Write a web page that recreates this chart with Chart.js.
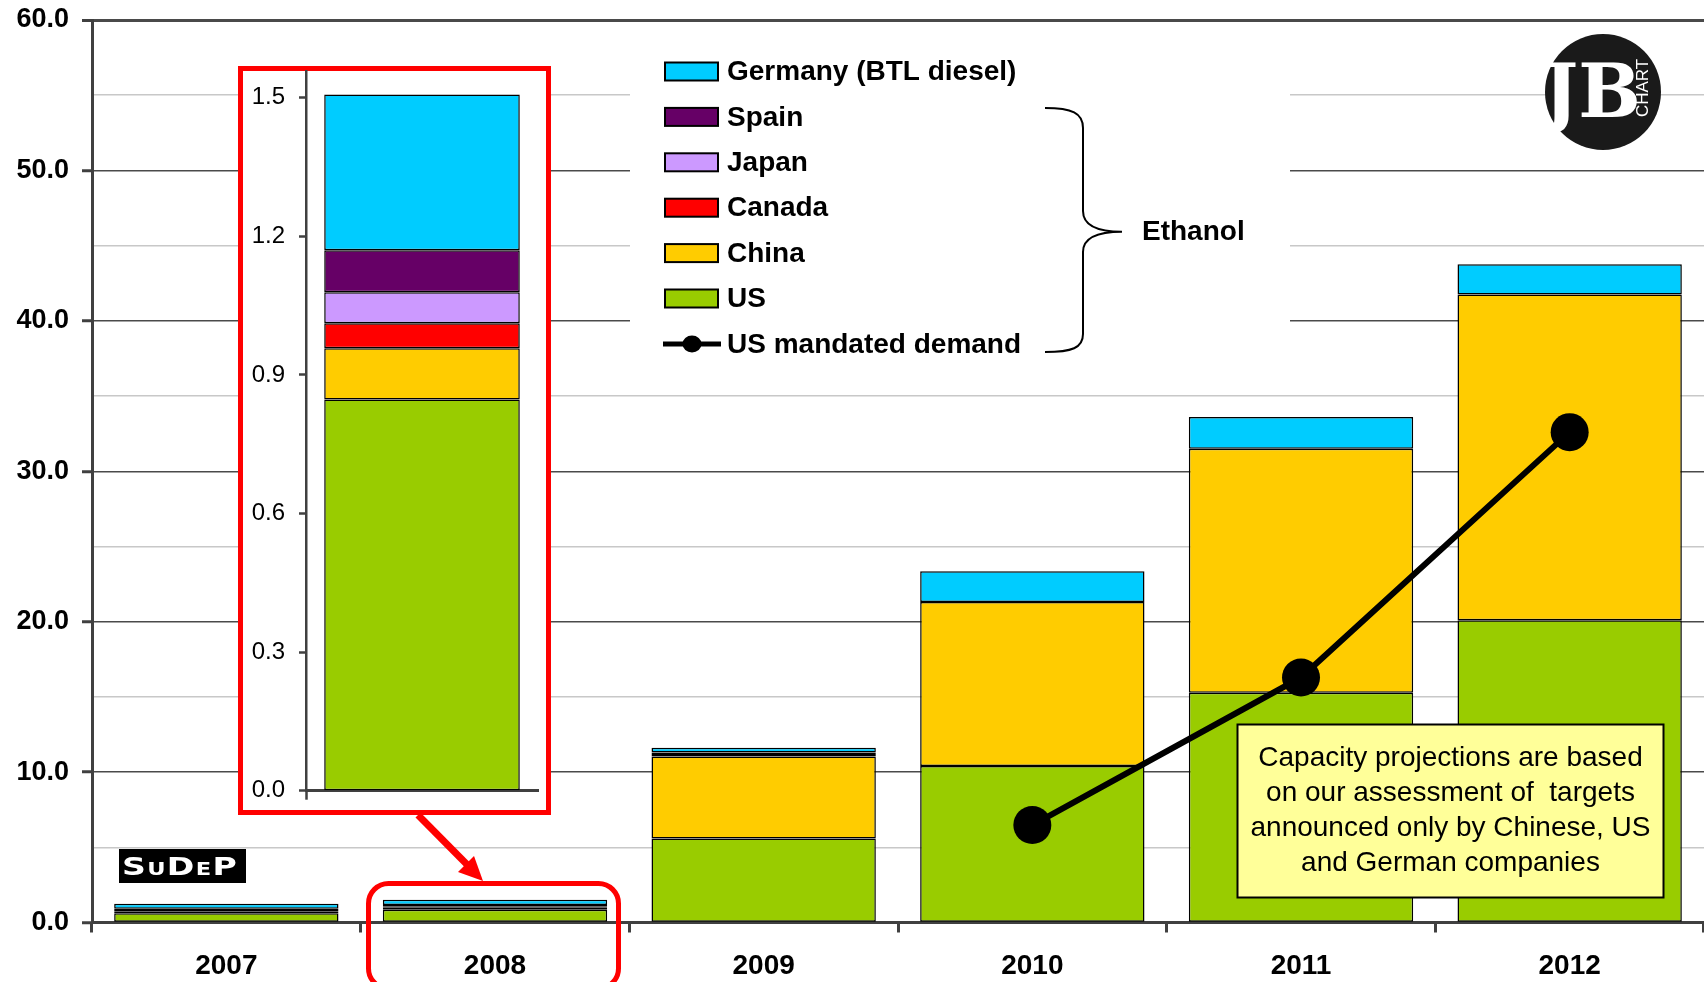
<!DOCTYPE html>
<html>
<head>
<meta charset="utf-8">
<script src="https://cdn.jsdelivr.net/npm/chart.js@4.4.1/dist/chart.umd.min.js"></script>
<style>
  body { margin: 0; background: #fff; overflow: hidden; }
  #wrap { position: relative; width: 1704px; height: 982px; }
  #main { position: absolute; left: 0; top: 0; }
  #inset { position: absolute; left: 243px; top: 60px; }
</style>
</head>
<body>
<div id="wrap">
  <canvas id="main" width="1704" height="982"></canvas>
  <canvas id="inset" width="302" height="750"></canvas>
</div>
<script>
// values
const years = ["2007", "2008", "2009", "2010", "2011", "2012"];
const usEthanol = [0.62, 0.847, 5.59, 10.4, 15.27, 20.09];
const chinaEthanol = [0.10, 0.111, 5.45, 10.9, 16.23, 21.66];
const canadaEthanol = [0.05, 0.054, 0.10, 0, 0, 0];
const japanEthanol = [0.06, 0.067, 0.07, 0, 0, 0];
const spainEthanol = [0.09, 0.091, 0.10, 0, 0, 0];
const germanyBtl = [0.33, 0.337, 0.30, 2.06, 2.10, 2.02];
const usMandated = [null, null, null, 6.48, 16.29, 32.6];

const mainTicks = { min: 0, max: 60, step: 5 };
const insetTicks = [0, 0.3, 0.6, 0.9, 1.2, 1.5];
const insetMax = 1.558;
const zoomYear = "2008";

const noteLines = [
  "Capacity projections are based",
  "on our assessment of  targets",
  "announced only by Chinese, US",
  "and German companies"
];

const FONT = '"Liberation Sans", Arial, sans-serif';
Chart.defaults.font.family = FONT;
Chart.defaults.color = "#000";

function zeroPad(s) {
  s.paddingTop = 0; s.paddingBottom = 0; s.paddingLeft = 0; s.paddingRight = 0;
}

function barSet(label, data, color) {
  return {
    label, data,
    backgroundColor: color,
    borderColor: "#000",
    borderWidth: 1.5,
    borderSkipped: false,
    barPercentage: 0.835,
    categoryPercentage: 1,
    order: 1
  };
}

function makeBars(idx) {
  const pick = arr => idx == null ? arr : [arr[idx]];
  return [
    barSet("US", pick(usEthanol), "#99CC00"),
    barSet("China", pick(chinaEthanol), "#FFCC00"),
    barSet("Canada", pick(canadaEthanol), "#FF0000"),
    barSet("Japan", pick(japanEthanol), "#CC99FF"),
    barSet("Spain", pick(spainEthanol), "#660066"),
    barSet("Germany (BTL diesel)", pick(germanyBtl), "#00CCFF")
  ];
}

const overlay = {
  id: "overlay",
  beforeDatasetsDraw(chart) {
    const c = chart.ctx;
    c.save();
    c.fillStyle = "#fff";
    c.fillRect(630, 30, 660, 350);   // legend area
    c.fillRect(238, 66, 313, 749);   // zoom box
    c.restore();
  },
  afterDraw(chart) {
    const c = chart.ctx;
    const ds = chart.data.datasets;
    c.save();

    // red zoom frame
    c.strokeStyle = "#FF0000";
    c.lineWidth = 5;
    c.strokeRect(240.5, 68.5, 308, 744);

    // arrow
    c.lineWidth = 7;
    c.beginPath();
    c.moveTo(418, 815);
    c.lineTo(467, 864.5);
    c.stroke();
    c.fillStyle = "#FF0000";
    c.beginPath();
    c.moveTo(483, 881);
    c.lineTo(458, 872);
    c.lineTo(474, 856);
    c.closePath();
    c.fill();

    // rounded frame round 2008
    c.lineWidth = 5;
    c.beginPath();
    c.roundRect(368.5, 883.5, 250, 105, 20);
    c.stroke();

    // legend
    c.font = "bold 28px " + FONT;
    c.textBaseline = "middle";
    c.textAlign = "left";
    [5, 4, 3, 2, 1, 0].forEach((di, i) => {
      const y = 71.5 + i * 45.4;
      c.fillStyle = ds[di].backgroundColor;
      c.fillRect(665, y - 9, 53, 18);
      c.strokeStyle = "#000";
      c.lineWidth = 2;
      c.strokeRect(665, y - 9, 53, 18);
      c.fillStyle = "#000";
      c.fillText(ds[di].label, 727, y + 1);
    });
    const ly = 71.5 + 6 * 45.4;
    c.strokeStyle = "#000";
    c.lineWidth = 5;
    c.beginPath();
    c.moveTo(663, ly);
    c.lineTo(721, ly);
    c.stroke();
    c.fillStyle = "#000";
    c.beginPath();
    c.ellipse(692, ly, 9.5, 8.5, 0, 0, Math.PI * 2);
    c.fill();
    c.fillText(ds[6].label, 727, ly + 1);

    // brace + Ethanol
    c.lineWidth = 2;
    c.beginPath();
    c.moveTo(1045, 108);
    c.bezierCurveTo(1072, 108, 1083, 113, 1083, 128);
    c.lineTo(1083, 211);
    c.bezierCurveTo(1083, 227, 1100, 231.7, 1122, 231.7);
    c.bezierCurveTo(1100, 231.7, 1083, 237, 1083, 252);
    c.lineTo(1083, 334);
    c.bezierCurveTo(1083, 348, 1072, 352, 1045, 352);
    c.stroke();
    c.fillText("Ethanol", 1142, 232);

    // note box
    c.fillStyle = "#FFFF99";
    c.fillRect(1237.5, 724.5, 426, 173);
    c.strokeStyle = "#000";
    c.lineWidth = 2;
    c.strokeRect(1237.5, 724.5, 426, 173);
    c.fillStyle = "#000";
    c.font = "28px " + FONT;
    c.textAlign = "center";
    noteLines.forEach((t, i) => c.fillText(t, 1450.5, 758 + i * 35));

    // SuDeP badge
    c.fillStyle = "#000";
    c.fillRect(119, 849, 127, 34);
    const parts = [["S", 25], ["U", 17], ["D", 25], ["E", 17], ["P", 25]];
    c.textAlign = "left";
    c.textBaseline = "alphabetic";
    let w = 0;
    parts.forEach(p => { c.font = "bold " + p[1] + "px 'DejaVu Sans'"; w += c.measureText(p[0]).width + 1; });
    const sx = 116 / w;
    c.save();
    c.translate(122, 875);
    c.scale(sx, 1);
    c.fillStyle = "#fff";
    let x = 0;
    parts.forEach(p => {
      c.font = "bold " + p[1] + "px 'DejaVu Sans'";
      c.fillText(p[0], x, 0);
      x += c.measureText(p[0]).width + 1;
    });
    c.restore();

    // JB chart logo
    c.fillStyle = "#1a1a1a";
    c.beginPath();
    c.arc(1603, 92, 58, 0, Math.PI * 2);
    c.fill();
    c.fillStyle = "#fff";
    c.font = "bold 74px 'DejaVu Serif'";
    c.textAlign = "center";
    c.textBaseline = "middle";
    c.fillText("JB", 1592, 98);
    c.save();
    c.translate(1643, 88);
    c.rotate(-Math.PI / 2);
    c.font = "17px " + FONT;
    c.fillText("CHART", 0, 0);
    c.restore();

    c.restore();
  }
};

const mainData = makeBars(null);
mainData.push({
  type: "line",
  label: "US mandated demand",
  data: usMandated,
  borderColor: "#000",
  backgroundColor: "#000",
  borderWidth: 6,
  pointRadius: 19,
  pointHoverRadius: 19,
  pointBorderWidth: 0,
  pointBackgroundColor: "#000",
  stack: "demand",
  order: 0
});

new Chart(document.getElementById("main"), {
  type: "bar",
  data: { labels: years, datasets: mainData },
  options: {
    responsive: false,
    animation: false,
    devicePixelRatio: 1,
    layout: { autoPadding: false, padding: { top: 20, left: 0, right: 0, bottom: 0 } },
    plugins: { legend: { display: false }, tooltip: { enabled: false } },
    scales: {
      x: {
        stacked: true,
        grid: { offset: true, drawOnChartArea: false, drawTicks: true, tickLength: 10, tickColor: "#404040", tickWidth: 3 },
        border: { color: "#404040", width: 3 },
        ticks: { font: { size: 28, weight: "bold" }, padding: 17, color: "#000" },
        afterFit(s) { s.height = 59.5; zeroPad(s); }
      },
      y: {
        stacked: true,
        min: mainTicks.min,
        max: mainTicks.max,
        ticks: {
          stepSize: mainTicks.step,
          autoSkip: false,
          callback: v => v % 10 === 0 ? v.toFixed(1) : "",
          font: { size: 27, weight: "bold" },
          padding: 13,
          color: "#000"
        },
        grid: {
          color: c => c.tick && c.tick.value % 10 === 0 ? "#4a4a4a" : "#c8c8c8",
          lineWidth: c => c.tick && c.tick.value === 60 ? 3 : 1.5,
          tickColor: c => c.tick && c.tick.value % 10 === 0 ? "#404040" : "rgba(0,0,0,0)",
          tickLength: 10,
          tickWidth: 3
        },
        border: { color: "#404040", width: 3 },
        afterFit(s) { s.width = 92; zeroPad(s); }
      }
    }
  },
  plugins: [overlay]
});

// inset: zoom on 2008
const zi = years.indexOf(zoomYear);

new Chart(document.getElementById("inset"), {
  type: "bar",
  data: { labels: [zoomYear], datasets: makeBars(zi).map(d => Object.assign(d, { barPercentage: 0.843 })) },
  options: {
    responsive: false,
    animation: false,
    devicePixelRatio: 1,
    layout: { autoPadding: false, padding: { top: 11, right: 7, left: 0, bottom: 0 } },
    plugins: { legend: { display: false }, tooltip: { enabled: false } },
    scales: {
      x: {
        stacked: true,
        ticks: { display: false },
        grid: {
          offset: true, drawOnChartArea: false, drawTicks: true, tickLength: 9, tickWidth: 2.5,
          tickColor: c => c.index === 0 ? "#404040" : "rgba(0,0,0,0)"
        },
        border: { color: "#404040", width: 3 },
        afterFit(s) { s.height = 19.3; zeroPad(s); }
      },
      y: {
        stacked: true,
        min: 0,
        max: insetMax,
        afterBuildTicks(s) { s.ticks = insetTicks.map(v => ({ value: v })); },
        ticks: {
          autoSkip: false,
          callback: v => v.toFixed(1),
          font: { size: 24 },
          padding: 14,
          color: "#000"
        },
        grid: {
          drawOnChartArea: false,
          tickLength: 7,
          tickWidth: 2.5,
          tickColor: "#404040"
        },
        border: { color: "#404040", width: 2.5 },
        afterFit(s) { s.width = 63; zeroPad(s); }
      }
    }
  }
});
</script>
</body>
</html>
